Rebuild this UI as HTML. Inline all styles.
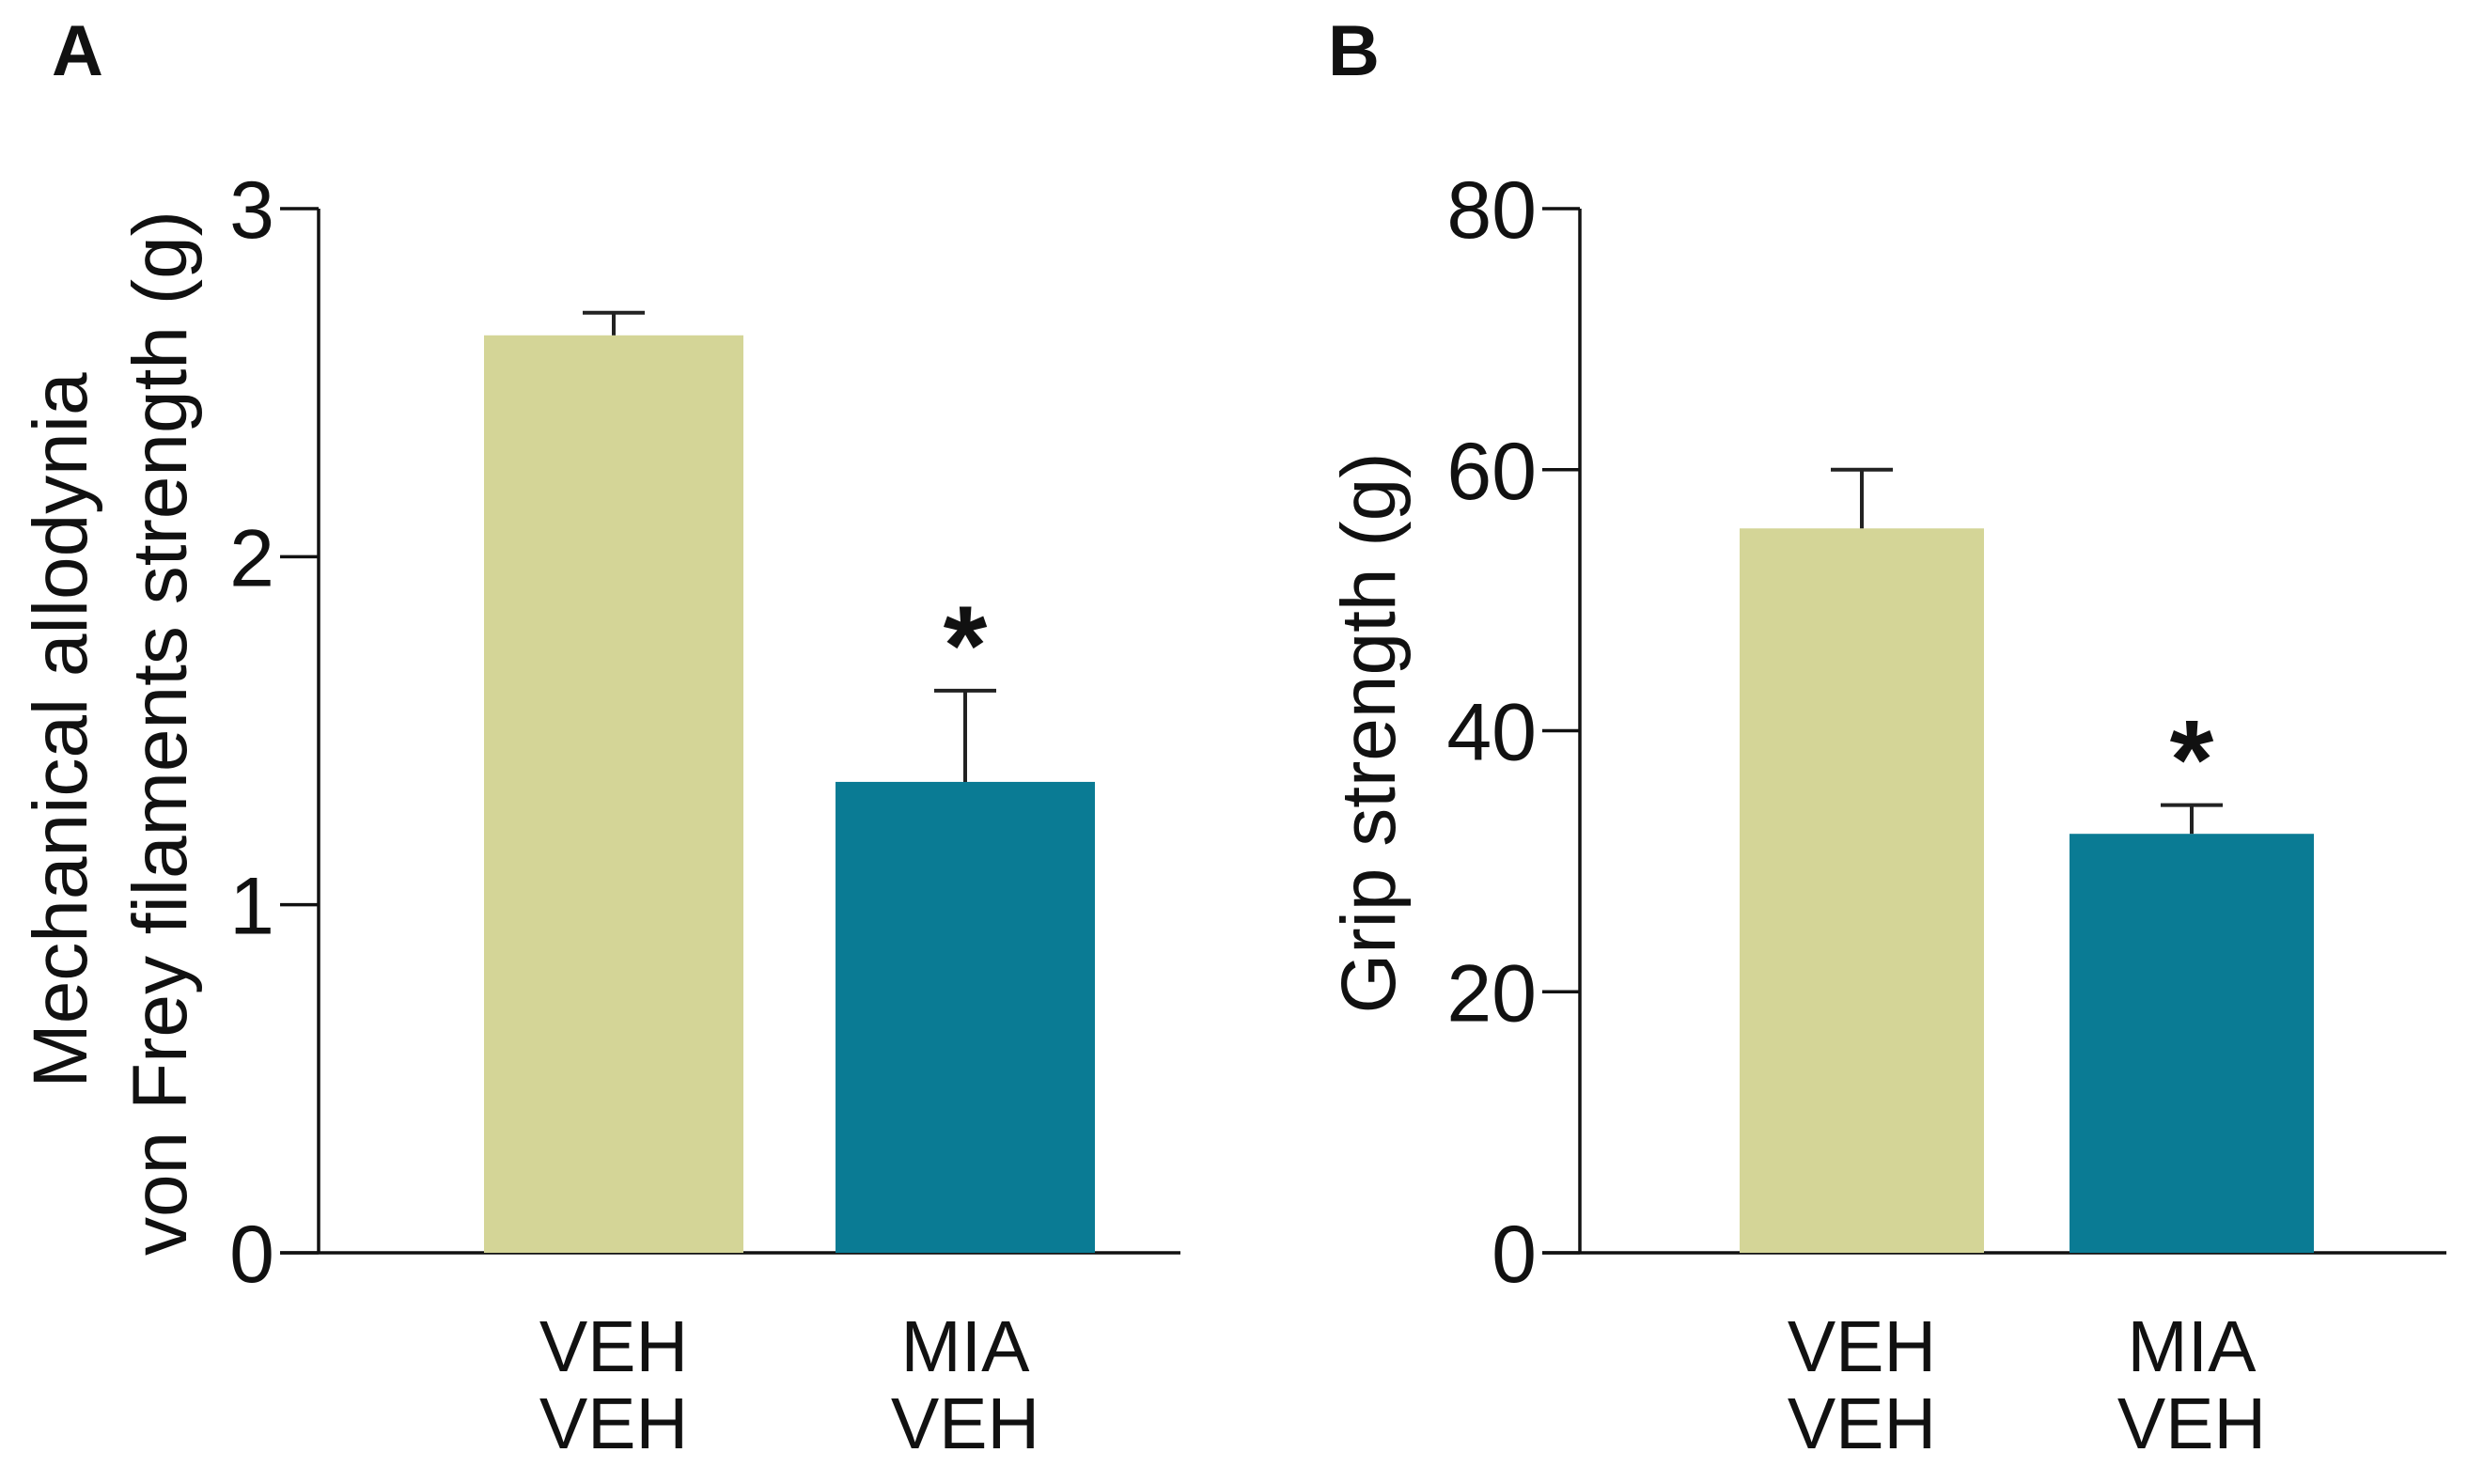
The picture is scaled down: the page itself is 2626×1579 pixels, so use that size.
<!DOCTYPE html>
<html><head><meta charset="utf-8"><style>
html,body{margin:0;padding:0;background:#fff;}
svg{display:block;}
text{font-family:"Liberation Sans",sans-serif;fill:#111;}
</style></head><body>
<svg id="chart" width="2626" height="1579" viewBox="0 0 2626 1579" xmlns="http://www.w3.org/2000/svg">
<text x="55" y="80" font-size="76" font-weight="bold">A</text>
<text x="1413" y="80" font-size="76" font-weight="bold">B</text>
<text transform="translate(92,777) rotate(-90)" text-anchor="middle" font-size="82">Mechanical allodynia</text>
<text transform="translate(198,780) rotate(-90)" text-anchor="middle" font-size="82">von Frey filaments strength (g)</text>
<text transform="translate(1484,780) rotate(-90)" text-anchor="middle" font-size="82">Grip strength (g)</text>
<g id="gA"></g>
<g id="gB"></g>
</svg>
<script>
const categories = [["VEH","VEH"],["MIA","VEH"]];
const aValues = [2.636, 1.353];
const aErrors = [0.065, 0.262];
const aTicks = [0, 1, 2, 3];
const bValues = [55.5, 32.1];
const bErrors = [4.5, 2.2];
const bTicks = [0, 20, 40, 60, 80];
const colors = ["#d4d597", "#0a7b94"];
const NS = "http://www.w3.org/2000/svg";
function mk(tag, attrs, parent){const e=document.createElementNS(NS,tag);for(const k in attrs)e.setAttribute(k,attrs[k]);parent.appendChild(e);return e;}
function panel(g, cfg, values, errors, ticks){
  const y = v => cfg.y0 - (v - cfg.min)/(cfg.max - cfg.min)*(cfg.y0 - cfg.yTop);
  let l = mk("line",{x1:cfg.ax,y1:cfg.yTop,x2:cfg.ax,y2:cfg.y0,stroke:"#111","stroke-width":3.5},g);
  
  
  l = mk("line",{x1:cfg.tickL,y1:cfg.y0,x2:cfg.xEnd,y2:cfg.y0,stroke:"#111","stroke-width":3.5},g);
  
  
  ticks.forEach(t=>{
    const tl = mk("line",{x1:cfg.tickL,y1:y(t),x2:cfg.ax,y2:y(t),stroke:"#111","stroke-width":3.5},g);
    
    
    const tx = mk("text",{x:cfg.tickL-6,y:y(t)+31,"text-anchor":"end","font-size":86},g);
    tx.textContent = t;
    
    
  });
  values.forEach((v,i)=>{
    const x0 = cfg.barX[i], w = cfg.barW, cx = x0 + w/2;
    const r = mk("rect",{x:x0,y:y(v),width:w,height:cfg.y0-y(v),fill:colors[i]},g);
    
    
    const ey = y(v+errors[i]);
    const e1 = mk("line",{x1:cx,y1:y(v),x2:cx,y2:ey,stroke:"#222","stroke-width":4},g);
    
    
    const e2 = mk("line",{x1:cx-33,y1:ey,x2:cx+33,y2:ey,stroke:"#222","stroke-width":4},g);
    
    
    categories[i].forEach((s,j)=>{
      const t = mk("text",{x:cx,y:1459+j*82,"text-anchor":"middle","font-size":77},g);
      t.textContent = s;
      
      
    });
    if(i===1){
      const st = mk("text",{x:cx,y:ey-75+68,"text-anchor":"middle","font-size":120,"font-weight":"bold"},g);
      st.textContent = "*";
      
      
    }
  });
}
panel(document.getElementById("gA"),{ax:339,tickL:298,xEnd:1256,y0:1333,yTop:222,min:0,max:3,barX:[515,889],barW:276},aValues,aErrors,aTicks);
panel(document.getElementById("gB"),{ax:1681,tickL:1641,xEnd:2603,y0:1333,yTop:222,min:0,max:80,barX:[1851,2202],barW:260},bValues,bErrors,bTicks);
</script>
</body></html>
